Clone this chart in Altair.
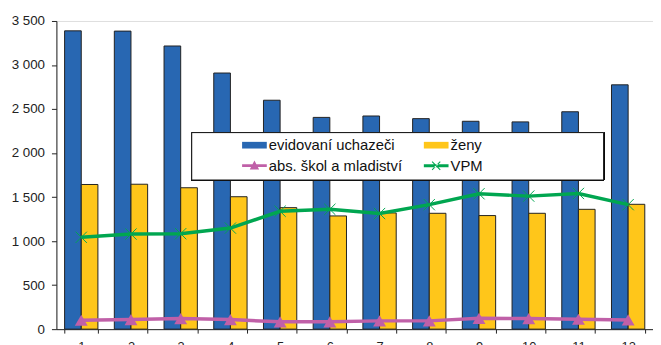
import altair as alt
import pandas as pd

months = [str(i) for i in range(1, 13)]
evidovani = [3388, 3385, 3216, 2909, 2600, 2405, 2421, 2391, 2361, 2354, 2469, 2775]
zeny = [1643, 1646, 1606, 1504, 1380, 1286, 1320, 1316, 1290, 1316, 1361, 1418]
absolventi = [101, 109, 120, 109, 83, 83, 94, 94, 123, 120, 112, 105]
vpm = [1043, 1080, 1084, 1148, 1339, 1361, 1313, 1414, 1538, 1511, 1541, 1414]

S_EVID = "evidovaní uchazeči"
S_ZENY = "ženy"
S_ABS = "abs. škol a mladiství"
S_VPM = "VPM"
series = [S_EVID, S_ZENY, S_ABS, S_VPM]
colors = ["#2867B2", "#FFC61A", "#C060A8", "#00A650"]

rows = []
for name, vals in zip(series, [evidovani, zeny, absolventi, vpm]):
    for m, v in zip(months, vals):
        rows.append({"mesic": m, "serie": name, "hodnota": v})
df = pd.DataFrame(rows)

FONT = "Liberation Sans"

x_enc = alt.X(
    "mesic:N",
    sort=months,
    title=None,
    scale=alt.Scale(paddingInner=0.33, paddingOuter=0.165),
    axis=alt.Axis(
        labelAngle=0, tickBand="extent", tickSize=4, domainColor="#222",
        tickColor="#222", labelFont=FONT, labelFontSize=13, labelColor="#222",
        labelPadding=8, grid=False,
    ),
)
y_enc = alt.Y(
    "hodnota:Q",
    title=None,
    scale=alt.Scale(domain=[0, 3500], nice=False),
    axis=alt.Axis(
        values=[0, 500, 1000, 1500, 2000, 2500, 3000, 3500],
        labelExpr="replace(format(datum.value, ',d'), ',', ' ')",
        tickSize=5, domainColor="#222", tickColor="#222", labelFont=FONT,
        labelFontSize=13.5, labelColor="#222", labelPadding=7, grid=False,
    ),
)

rect_path = "M-1,-0.27H1V0.27H-1Z"
abs_path = "M-1,-0.11H1V0.11H-1Z M0,-0.42L0.38,0.3H-0.38Z"
vpm_path = ("M-1,-0.12H1V0.12H-1Z "
            "M-0.36,-0.3L-0.3,-0.36L0.36,0.3L0.3,0.36Z "
            "M-0.36,0.3L-0.3,0.36L0.36,-0.3L0.3,-0.36Z")

legend = alt.Legend(
    title=None, orient="none", legendX=188, legendY=113, columns=2,
    direction="horizontal",
    columnPadding=21, rowPadding=0, padding=0, symbolSize=625,
    symbolOpacity=1, symbolStrokeWidth=0,
    labelFont=FONT, labelFontSize=15, labelColor="#111", labelOffset=2,
    labelLimit=300,
)

color_enc = alt.Color(
    "serie:N", scale=alt.Scale(domain=series, range=colors), legend=legend
)
shape_enc = alt.Shape(
    "serie:N",
    scale=alt.Scale(domain=series, range=[rect_path, rect_path, abs_path, vpm_path]),
    legend=legend,
)

bars = alt.Chart(df).transform_filter(
    alt.FieldOneOfPredicate(field="serie", oneOf=[S_EVID, S_ZENY])
).mark_bar(stroke="#222", strokeWidth=1).encode(
    x=x_enc,
    y=y_enc,
    xOffset=alt.XOffset("serie:N", sort=[S_EVID, S_ZENY],
                        scale=alt.Scale(paddingInner=0, paddingOuter=0)),
    color=color_enc,
)

line_base = alt.Chart(df).transform_filter(
    alt.FieldOneOfPredicate(field="serie", oneOf=[S_ABS, S_VPM])
)

lines = line_base.mark_line(strokeWidth=3.5).encode(
    x=x_enc, y=y_enc, color=color_enc, detail="serie:N"
)

tri = line_base.transform_filter(alt.datum.serie == S_ABS).mark_point(
    shape="triangle-up", filled=True, size=170, opacity=1, color=colors[2]
).encode(x=x_enc, y=y_enc)

crosses = line_base.transform_filter(alt.datum.serie == S_VPM).mark_point(
    shape="M-1,-1L1,1M-1,1L1,-1", filled=False, size=130, opacity=1,
    stroke=colors[3], strokeWidth=1
).encode(x=x_enc, y=y_enc)

legend_box = alt.Chart(df).mark_rect(
    fill="white", stroke="#111", strokeWidth=1
).encode(
    x=alt.value(137), x2=alt.value(554), y=alt.value(113), y2=alt.value(161)
)

legend_keys = alt.Chart(df).mark_point(filled=True, opacity=0).encode(
    x=x_enc, y=y_enc, color=color_enc, shape=shape_enc
)

chart = alt.layer(bars, lines, tri, crosses, legend_box, legend_keys).properties(
    width=604, height=312,
    autosize=alt.AutoSizeParams(type="none"),
    padding={"left": 49, "top": 11, "right": 0, "bottom": 22},
).configure_view(stroke="#999", strokeWidth=1).configure(background="white")

chart.save("out.html", embed_options={"renderer": "svg", "actions": False})
